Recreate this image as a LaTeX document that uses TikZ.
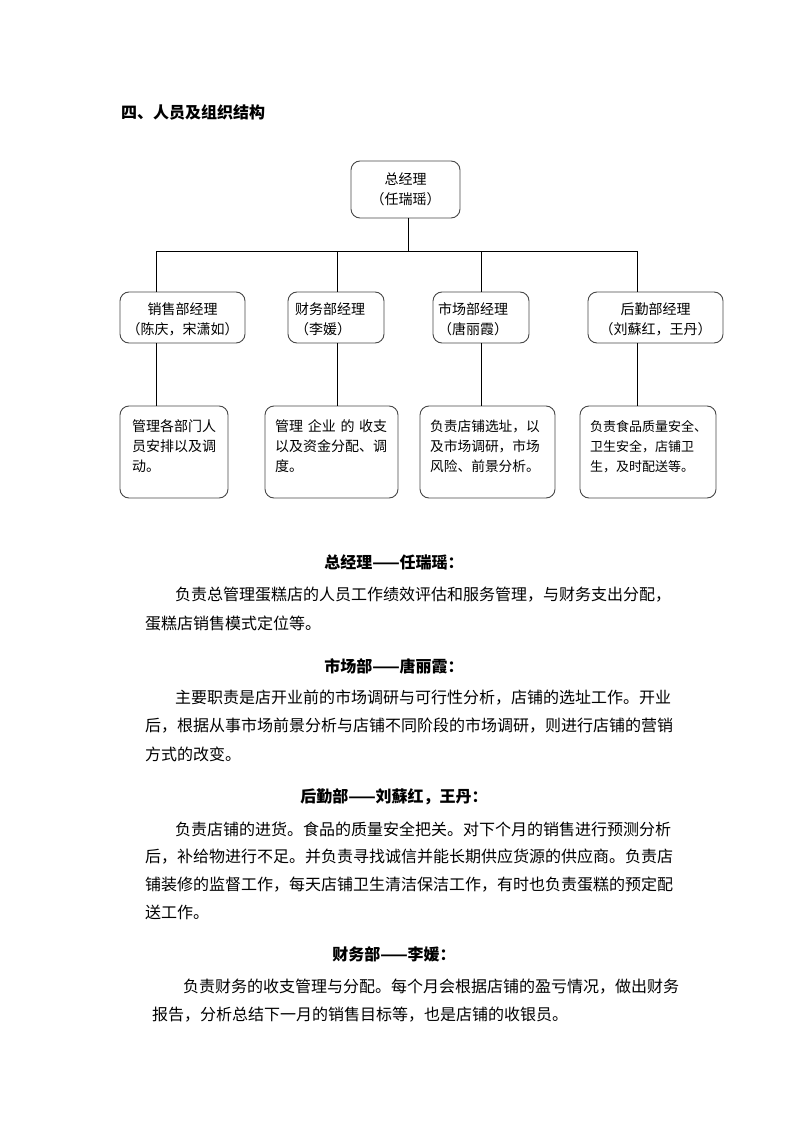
\documentclass[tikz,border=0pt]{standalone}
\usepackage{fontspec}
\setmainfont{Noto Sans CJK SC}
\tikzset{
  box/.style={draw=black!72, line width=0.9pt, rounded corners=9pt, inner sep=0pt, fill=white},
  link/.style={draw=black, line width=0.8pt},
  tfour/.style={font=\fontsize{14}{20}\selectfont, inner sep=0pt, align=left},
  tthree/.style={font=\fontsize{13}{20}\selectfont, inner sep=0pt, align=left},
  ptext/.style={font=\fontsize{16}{16}\selectfont, inner sep=0pt, anchor=west},
  head/.style={font=\fontsize{16}{16}\selectfont\bfseries, inner sep=0pt}
}
\begin{document}
\begin{tikzpicture}[x=1pt,y=-1pt]
\useasboundingbox (0,0) rectangle (794,1123);

% title
\node[head, anchor=west] (title) at (121,112) {四、人员及组织结构};

% top box
\node[box, minimum width=109pt, minimum height=57pt] (gm) at (405.5,189.5) {};
\node[tfour, align=center] (gmt) at (405.5,189) {总经理\\（任瑞瑶）};

% second row boxes
\node[box, minimum width=125pt, minimum height=51pt] (sales) at (182.5,317.5) {};
\node[box, minimum width=96pt, minimum height=51pt] (fin) at (336,317.5) {};
\node[box, minimum width=96pt, minimum height=51pt] (mkt) at (481,317.5) {};
\node[box, minimum width=135pt, minimum height=51pt] (log) at (655.5,317.5) {};

\node[tfour, align=center] (salest) at (182.5,319.5) {销售部经理\\（陈庆，宋潇如）};
\node[tfour, anchor=west] (fint) at (295,319.5) {财务部经理\\（李媛）};
\node[tfour, anchor=west] (mktt) at (438,319.5) {市场部经理\\（唐丽霞）};
\node[tfour, align=center] (logt) at (655.5,319.5) {后勤部经理\\（刘蘇红，王丹）};

% third row boxes
\node[box, minimum width=108pt, minimum height=92pt] (d1) at (174,452) {};
\node[box, minimum width=133pt, minimum height=92pt] (d2) at (331.5,452) {};
\node[box, minimum width=135pt, minimum height=92pt] (d3) at (487.5,452) {};
\node[box, minimum width=136pt, minimum height=92pt] (d4) at (648,452) {};

\node[tfour, anchor=north west] (d1t) at (132,419.5) {管理各部门人\\员安排以及调\\动。};
\node[tfour, anchor=north west] (d2t) at (275,419.5) {\makebox[112pt][s]{管理\hfill 企业\hfill 的\hfill 收支}\\以及资金分配、调\\度。};
\node[tfour, font=\fontsize{13.7}{20}\selectfont, anchor=north west] (d3t) at (430,419.5) {负责店铺选址，以\\及市场调研，市场\\风险、前景分析。};
\node[tthree, anchor=north west] (d4t) at (590,420) {负责食品质量安全、\\卫生安全，店铺卫\\生，及时配送等。};

% connectors
\coordinate (jc) at (408,251);
\coordinate (j1) at (156.5,251);
\coordinate (j2) at (337,251);
\coordinate (j3) at (481,251);
\coordinate (j4) at (637,251);
\draw[link] (jc |- gm.south) -- (jc);
\draw[link] (j1) -- (j4);
\draw[link] (j1) -- (j1 |- sales.north);
\draw[link] (j2) -- (j2 |- fin.north);
\draw[link] (j3) -- (j3 |- mkt.north);
\draw[link] (j4) -- (j4 |- log.north);
\draw[link] (j1 |- sales.south) -- (j1 |- d1.north);
\draw[link] (j2 |- fin.south) -- (j2 |- d2.north);
\draw[link] (j3 |- mkt.south) -- (j3 |- d3.north);
\draw[link] (j4 |- log.south) -- (j4 |- d4.north);

% text sections
\node[head] (h1) at (394,562) {总经理——任瑞瑶：};
\node[ptext] (p1a) at (175,595) {负责总管理蛋糕店的人员工作绩效评估和服务管理，与财务支出分配，};
\node[ptext] (p1b) at (145,623) {蛋糕店销售模式定位等。};

\node[head] (h2) at (394,666) {市场部——唐丽霞：};
\node[ptext] (p2a) at (175,698) {主要职责是店开业前的市场调研与可行性分析，店铺的选址工作。开业};
\node[ptext] (p2b) at (145,726) {后，根据从事市场前景分析与店铺不同阶段的市场调研，则进行店铺的营销};
\node[ptext] (p2c) at (145,754) {方式的改变。};

\node[head] (h3) at (394,797) {后勤部——刘蘇红，王丹：};
\node[ptext] (p3a) at (175,829) {负责店铺的进货。食品的质量安全把关。对下个月的销售进行预测分析};
\node[ptext] (p3b) at (145,857) {后，补给物进行不足。并负责寻找诚信并能长期供应货源的供应商。负责店};
\node[ptext] (p3c) at (145,885) {铺装修的监督工作，每天店铺卫生清洁保洁工作，有时也负责蛋糕的预定配};
\node[ptext] (p3d) at (145,912) {送工作。};

\node[head] (h4) at (394,954) {财务部——李媛：};
\node[ptext] (p4a) at (183,987) {负责财务的收支管理与分配。每个月会根据店铺的盈亏情况，做出财务};
\node[ptext] (p4b) at (152,1015) {报告，分析总结下一月的销售目标等，也是店铺的收银员。};
\end{tikzpicture}
\end{document}
